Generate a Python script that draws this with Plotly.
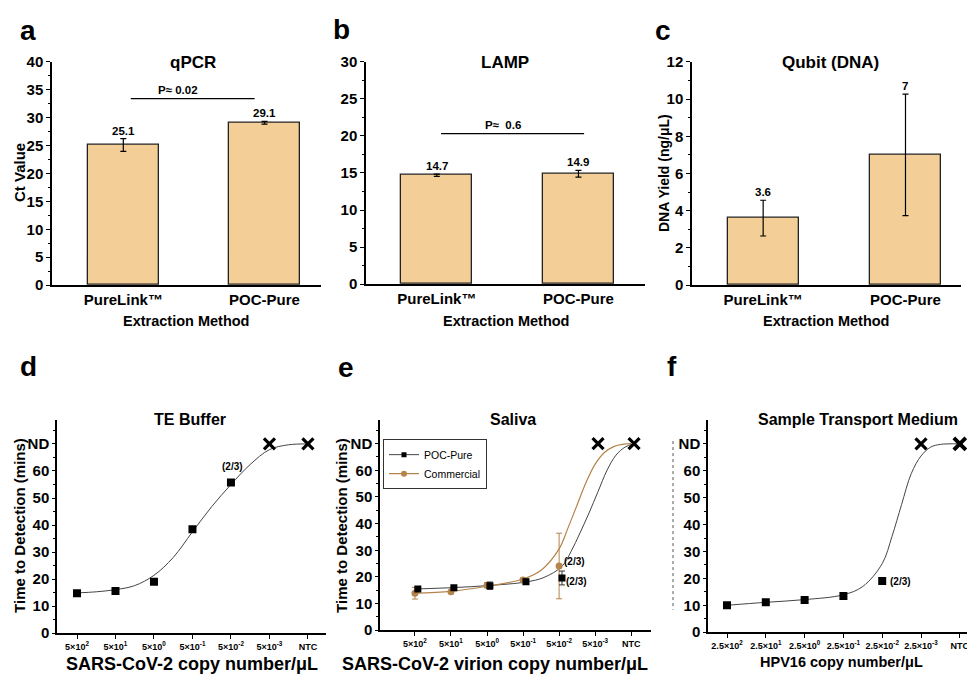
import plotly.graph_objects as go

W, H = 975, 678
FONT = 'Liberation Sans, Arial, sans-serif'

# ---- data ----
methods = ['PureLink™', 'POC-Pure']
qpcr_ct = [25.1, 29.1]
qpcr_err = [1.15, 0.25]
lamp_ct = [14.7, 14.9]
lamp_err = [0.15, 0.45]
qubit_yield = [3.6, 7.0]
qubit_err = [0.96, 3.26]
qubit_text = ['3.6', '7']

sars_ticks = ['5×10<sup>2</sup>', '5×10<sup>1</sup>', '5×10<sup>0</sup>', '5×10<sup>-1</sup>',
              '5×10<sup>-2</sup>', '5×10<sup>-3</sup>', 'NTC']
hpv_ticks = ['2.5×10<sup>2</sup>', '2.5×10<sup>1</sup>', '2.5×10<sup>0</sup>', '2.5×10<sup>-1</sup>',
             '2.5×10<sup>-2</sup>', '2.5×10<sup>-3</sup>', 'NTC']
time_ticks = ['0', '10', '20', '30', '40', '50', '60', 'ND']
ND = 70

# TE buffer
te_idx = [0, 1, 2, 3, 4]
te_time = [14.8, 15.6, 19.0, 38.4, 55.7]
te_nd_idx = [5, 6]
te_fit_x = [0, 0.5, 1, 1.5, 2, 2.5, 3, 3.5, 4, 4.5, 5, 5.5, 6]
te_fit_y = [14.9, 15.3, 16.1, 17.6, 21.4, 28.0, 37.5, 46.8, 55.0, 62.4, 67.9, 69.7, 70]

# Saliva
sal_idx = [0, 1, 2, 3, 4]
sal_poc = [15.5, 15.9, 16.7, 18.2, 19.6]
sal_poc_err = [0.8, 0.4, 1.4, 1.0, 2.6]
sal_com = [13.9, 14.4, 16.9, 18.8, 24.1]
sal_com_err = [2.2, 0.5, 1.0, 0.8, 12.3]
sal_nd_idx = [5, 6]
sal_poc_fit_x = [0, 1, 2, 3, 3.5, 4, 4.25, 4.5, 4.75, 5, 5.25, 5.5, 5.75, 6]
sal_poc_fit_y = [15.5, 16.0, 16.8, 18.1, 19.8, 24.0, 29.5, 36.5, 44.0, 52.0, 60.0, 65.7, 68.7, 70]
sal_com_fit_x = [0, 1, 2, 3, 3.5, 4, 4.25, 4.5, 4.75, 5, 5.25, 5.5, 5.75, 6]
sal_com_fit_y = [13.9, 14.6, 16.5, 19.2, 22.5, 30.5, 38.5, 47.0, 55.5, 62.3, 66.6, 68.8, 69.7, 70]

# Sample transport medium
stm_idx = [0, 1, 2, 3, 4]
stm_time = [10.0, 11.1, 12.0, 13.4, 19.0]
stm_nd_idx = [5, 6]
stm_fit_x = [0, 1, 2, 3, 3.5, 4, 4.25, 4.5, 4.75, 5, 5.25, 5.5, 6]
stm_fit_y = [10.0, 11.1, 12.1, 13.9, 17.0, 25.5, 35.5, 47.5, 59.0, 65.5, 68.8, 69.8, 70]

BAR = '#F3CE96'
BROWN = '#B5844A'
CURVE = '#444444'
POC_SHIFT = 0.08


def xd(a, b):
    return [a / W, b / W]


def yd(top, bottom):
    return [1 - bottom / H, 1 - top / H]


def px(x):
    return x / W


def py(y):
    return 1 - y / H


def bold(labels):
    return ['<b>%s</b>' % s for s in labels]


fig = go.Figure()

# ---- bar panels ----
bar_sets = [(qpcr_ct, qpcr_err, [str(v) for v in qpcr_ct], 'x', 'y'),
            (lamp_ct, lamp_err, [str(v) for v in lamp_ct], 'x2', 'y2'),
            (qubit_yield, qubit_err, qubit_text, 'x3', 'y3')]
annotations = []
for vals, errs, texts, xa, ya in bar_sets:
    fig.add_trace(go.Bar(
        x=[0, 1], y=vals, width=0.5, xaxis=xa, yaxis=ya,
        marker=dict(color=BAR, line=dict(color='#222222', width=1.3)),
        error_y=dict(type='data', array=errs, color='black', thickness=1.2, width=3),
        showlegend=False))
    for i, (v, e, t) in enumerate(zip(vals, errs, texts)):
        annotations.append(dict(x=i, y=v + e, xref=xa, yref=ya, text='<b>%s</b>' % t,
                                showarrow=False, yanchor='bottom', yshift=0,
                                font=dict(size=11.5, color='black')))

# ---- TE buffer ----
fig.add_trace(go.Scatter(x=te_fit_x, y=te_fit_y, mode='lines', line=dict(color=CURVE, width=1, shape='spline'),
                         xaxis='x4', yaxis='y4', showlegend=False))
fig.add_trace(go.Scatter(x=te_idx, y=te_time, mode='markers', marker=dict(symbol='square', size=8, color='black'),
                         xaxis='x4', yaxis='y4', showlegend=False))
fig.add_trace(go.Scatter(x=te_nd_idx, y=[ND] * len(te_nd_idx), mode='markers',
                         marker=dict(symbol='x-thin', size=11, line=dict(width=3.2, color='black')),
                         xaxis='x4', yaxis='y4', showlegend=False))

# ---- Saliva ----
poc_x = [i + POC_SHIFT for i in sal_idx]
fig.add_trace(go.Scatter(x=[x + POC_SHIFT for x in sal_poc_fit_x], y=sal_poc_fit_y, mode='lines',
                         line=dict(color=CURVE, width=1, shape='spline'),
                         xaxis='x5', yaxis='y5', showlegend=False))
fig.add_trace(go.Scatter(x=sal_com_fit_x, y=sal_com_fit_y, mode='lines',
                         line=dict(color=BROWN, width=1.2, shape='spline'),
                         xaxis='x5', yaxis='y5', showlegend=False))
fig.add_trace(go.Scatter(x=sal_idx, y=sal_com, mode='markers',
                         marker=dict(symbol='circle', size=7, color=BROWN),
                         error_y=dict(type='data', array=sal_com_err, color=BROWN, thickness=1, width=3),
                         xaxis='x5', yaxis='y5', showlegend=False))
fig.add_trace(go.Scatter(x=poc_x, y=sal_poc, mode='markers',
                         marker=dict(symbol='square', size=7, color='black'),
                         error_y=dict(type='data', array=sal_poc_err, color='#333333', thickness=1, width=3),
                         xaxis='x5', yaxis='y5', showlegend=False))
fig.add_trace(go.Scatter(x=[i + POC_SHIFT for i in sal_nd_idx], y=[ND] * len(sal_nd_idx), mode='markers',
                         marker=dict(symbol='x-thin', size=11, line=dict(width=3.2, color='black')),
                         xaxis='x5', yaxis='y5', showlegend=False))
# legend entries
fig.add_trace(go.Scatter(x=[None], y=[None], mode='lines+markers', name='POC-Pure',
                         line=dict(color=CURVE, width=1), marker=dict(symbol='square', size=5, color='black'),
                         xaxis='x5', yaxis='y5'))
fig.add_trace(go.Scatter(x=[None], y=[None], mode='lines+markers', name='Commercial',
                         line=dict(color=BROWN, width=1.2), marker=dict(symbol='circle', size=6, color=BROWN),
                         xaxis='x5', yaxis='y5'))

# ---- Sample transport medium ----
fig.add_trace(go.Scatter(x=stm_fit_x, y=stm_fit_y, mode='lines', line=dict(color=CURVE, width=1, shape='spline'),
                         xaxis='x6', yaxis='y6', showlegend=False))
fig.add_trace(go.Scatter(x=stm_idx, y=stm_time, mode='markers', marker=dict(symbol='square', size=8, color='black'),
                         xaxis='x6', yaxis='y6', showlegend=False))
fig.add_trace(go.Scatter(x=stm_nd_idx, y=[ND] * len(stm_nd_idx), mode='markers',
                         marker=dict(symbol='x-thin', size=11, line=dict(width=3.2, color='black')),
                         xaxis='x6', yaxis='y6', showlegend=False))
fig.add_trace(go.Scatter(x=stm_nd_idx[-1:], y=[ND], mode='markers',
                         marker=dict(symbol='x-thin', size=12, line=dict(width=3.8, color='black')),
                         xaxis='x6', yaxis='y6', showlegend=False))

# ---- axes ----
line_style = dict(showline=True, linecolor='black', linewidth=1.5, showgrid=False, zeroline=False,
                  tickcolor='black', tickwidth=1.3)
big_tick = dict(size=15, color='black', family=FONT)
small_tick = dict(size=9, color='black', family=FONT)


def bar_x(dom, rng, anchor):
    return dict(domain=dom, range=rng, anchor=anchor, tickvals=[0, 1], ticktext=bold(methods),
                ticks='', tickfont=big_tick, **line_style)


def bar_y(dom, top, dt, anchor):
    vals = [k * dt for k in range(int(top / dt) + 1)]
    return dict(domain=dom, range=[0, top], anchor=anchor, tickvals=vals,
                ticktext=bold(['%g' % v for v in vals]), ticks='outside', ticklen=4,
                tickfont=big_tick, minor=dict(dtick=dt / 2, ticks='outside', ticklen=2.5, tickcolor='black'),
                **line_style)


def cat_x(dom, rng, labels, anchor):
    return dict(domain=dom, range=rng, anchor=anchor, tickvals=list(range(7)), ticktext=bold(labels),
                ticks='outside', ticklen=4, tickfont=small_tick, **line_style)


def time_y(dom, anchor):
    return dict(domain=dom, range=[0, 79], anchor=anchor, tickvals=list(range(0, 71, 10)),
                ticktext=bold(time_ticks), ticks='outside', ticklen=3, tickfont=big_tick,
                minor=dict(dtick=5, ticks='outside', ticklen=2.5, tickcolor='black'), **line_style)


fig.update_layout(
    xaxis=bar_x(xd(44, 313), [-0.505, 1.4], 'y'),
    yaxis=bar_y(yd(46, 275), 40, 5, 'x'),
    xaxis2=bar_x(xd(358, 637), [-0.5, 1.47], 'y2'),
    yaxis2=bar_y(yd(46, 274), 30, 5, 'x2'),
    xaxis3=bar_x(xd(684, 953), [-0.5, 1.39], 'y3'),
    yaxis3=bar_y(yd(46, 275), 12, 2, 'x3'),
    xaxis4=cat_x(xd(49, 318), [-0.52, 6.47], sars_ticks, 'y4'),
    yaxis4=time_y(yd(413, 632), 'x4'),
    xaxis5=cat_x(xd(372, 643), [-0.97, 6.55], sars_ticks, 'y5'),
    yaxis5=time_y(yd(413, 629), 'x5'),
    xaxis6=cat_x(xd(700, 972), [-0.49, 6.52], hpv_ticks, 'y6'),
    yaxis6=time_y(yd(413, 631), 'x6'),
)

# ---- significance bars ----
shapes = [
    dict(type='line', xref='x', yref='y', x0=0.053, x1=0.93, y0=33.4, y1=33.4, line=dict(color='black', width=1.2)),
    dict(type='line', xref='x2', yref='y2', x0=0.03, x1=1.04, y0=20.3, y1=20.3, line=dict(color='black', width=1.2)),
    dict(type='line', xref='paper', yref='paper', x0=px(665), x1=px(665), y0=py(435), y1=py(608),
         line=dict(color='#555555', width=1, dash='dot')),
]
annotations += [
    dict(x=0.385, y=33.4, xref='x', yref='y', text='<b>P≈ 0.02</b>', showarrow=False, yanchor='bottom',
         yshift=1, font=dict(size=11.5, color='black')),
    dict(x=0.465, y=20.3, xref='x2', yref='y2', text='<b>P≈  0.6</b>', showarrow=False, yanchor='bottom',
         yshift=1, font=dict(size=11.5, color='black')),
    dict(x=4.05, y=61.8, xref='x4', yref='y4', text='<b>(2/3)</b>', showarrow=False, font=dict(size=10, color='black')),
    dict(x=4.44, y=25.9, xref='x5', yref='y5', text='<b>(2/3)</b>', showarrow=False, font=dict(size=10, color='black')),
    dict(x=4.47, y=18.2, xref='x5', yref='y5', text='<b>(2/3)</b>', showarrow=False, font=dict(size=10, color='black')),
    dict(x=4.46, y=18.8, xref='x6', yref='y6', text='<b>(2/3)</b>', showarrow=False, font=dict(size=10, color='black')),
]

# panel letters, titles, axis titles (pixel positions)
texts = [
    ('a', 20, 14, 28, 0), ('b', 333, 13, 28, 0), ('c', 655, 14, 28, 0),
    ('d', 20, 358, 28, 0), ('e', 338, 360, 28, 0), ('f', 664, 358, 28, 0),
    ('qPCR', 185, 47, 17, 0), ('LAMP', 497, 47, 17, 0), ('Qubit (DNA)', 822, 47, 17, 0),
    ('TE Buffer', 182, 413, 16, 0), ('Saliva', 505, 413, 16, 0), ('Sample Transport Medium', 850, 413, 16, 0),
    ('Extraction Method', 178, 312, 14.5, 0), ('Extraction Method', 498, 312, 14.5, 0),
    ('Extraction Method', 818, 312, 14.5, 0),
    ('SARS-CoV-2 copy number/μL', 184, 664, 18, 0), ('SARS-CoV-2 virion copy number/μL', 487, 664, 18, 0),
    ('HPV16 copy number/μL', 833, 662, 14.5, 0),
    ('Ct Value', 12, 160, 15, -90), ('DNA Yield (ng/μL)', 656, 160, 14, -90),
    ('Time to Detection (mins)', 12, 522, 15, -90), ('Time to Detection (mins)', 334, 522, 15, -90),
]
for t, x, y, s, ang in texts:
    annotations.append(dict(x=px(x), y=py(y), xref='paper', yref='paper', text='<b>%s</b>' % t,
                            showarrow=False, textangle=ang, xanchor='center', yanchor='middle',
                            font=dict(size=s, color='black')))

fig.update_layout(
    width=W, height=H, margin=dict(l=0, r=0, t=0, b=0),
    paper_bgcolor='white', plot_bgcolor='white',
    font=dict(family=FONT, color='black'),
    shapes=shapes, annotations=annotations,
    bargap=0,
    legend=dict(x=px(375), y=py(433), xanchor='left', yanchor='top', bgcolor='white',
                bordercolor='#333333', borderwidth=1, font=dict(size=10.5, color='black'),
                itemwidth=30, tracegroupgap=0),
)

fig.write_html("out.html")
